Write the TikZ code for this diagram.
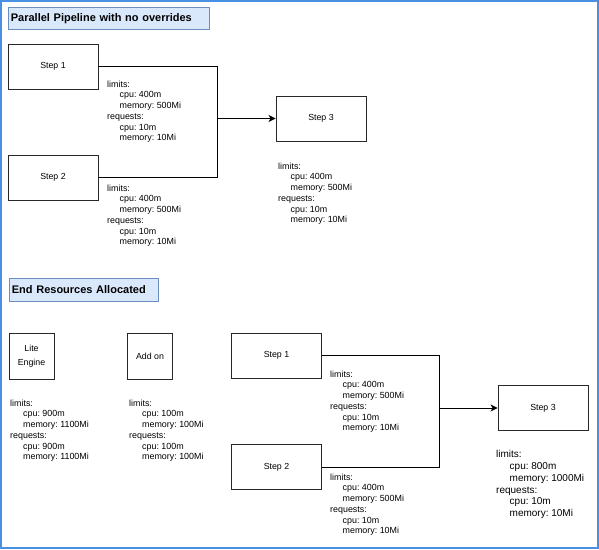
\documentclass[tikz,border=0pt]{standalone}
\usepackage{fontspec}
\setmainfont{Liberation Sans}
\usetikzlibrary{arrows.meta}
\definecolor{framecol}{RGB}{74,144,226}
\definecolor{titlefill}{RGB}{218,232,252}
\definecolor{titledraw}{RGB}{108,142,191}
\definecolor{boxdraw}{RGB}{40,40,40}
\newcommand\rind{\hspace*{12.5pt}}
\frenchspacing
\begin{document}
\begin{tikzpicture}[x=1pt,y=-1pt,
  frame/.style={draw=framecol,line width=1.5pt},
  titlebox/.style={draw=titledraw,fill=titlefill,line width=0.8pt,anchor=north west,
    font=\fontsize{11}{13}\selectfont\bfseries,align=left,inner xsep=2.5pt,inner ysep=0pt},
  stepbox/.style={draw=boxdraw,line width=0.9pt,minimum width=90pt,minimum height=45pt,
    inner sep=0pt,font=\fontsize{8.8}{10.5}\selectfont},
  smallbox/.style={draw=boxdraw,line width=0.9pt,minimum width=45pt,minimum height=46pt,
    inner sep=0pt,align=center,font=\fontsize{8.8}{14}\selectfont},
  reslab/.style={anchor=north west,inner sep=0pt,align=left,
    font=\fontsize{8.9}{10.75}\selectfont},
  reslabbig/.style={anchor=north west,inner sep=0pt,align=left,
    font=\fontsize{10}{11.8}\selectfont},
  conn/.style={draw=black,line width=0.9pt},
  arr/.style={conn,-{Stealth[length=7pt,width=7pt,inset=2pt]}}
]
\useasboundingbox (0,0) rectangle (599,549);
\draw[frame] (0.75,0.75) rectangle (598,548);

% ---------- top section ----------
\node[titlebox,text width=196pt,minimum height=22pt] (t1) at (8,7) {Parallel Pipeline with no overrides};

\node[stepbox] (a1) at (53,66.5) {Step 1};
\node[stepbox] (a2) at (53,177.5) {Step 2};
\node[stepbox] (a3) at (321,118.5) {Step 3};
\coordinate (ja) at (217,118.5);
\draw[conn] (a1.east) -| (ja);
\draw[conn] (a2.east) -| (ja);
\draw[arr] (ja) -- (a3.west);

\node[reslab] (la1) at (107,80.5) {limits:\\\rind cpu: 400m\\\rind memory: 500Mi\\requests:\\\rind cpu: 10m\\\rind memory: 10Mi};
\node[reslab] (la2) at (107,184.5) {limits:\\\rind cpu: 400m\\\rind memory: 500Mi\\requests:\\\rind cpu: 10m\\\rind memory: 10Mi};
\node[reslab] (la3) at (278,162.5) {limits:\\\rind cpu: 400m\\\rind memory: 500Mi\\requests:\\\rind cpu: 10m\\\rind memory: 10Mi};

% ---------- bottom section ----------
\node[titlebox,text width=144pt,minimum height=23pt] (t2) at (9,278) {End Resources Allocated};

\node[smallbox] (le) at (31.5,356) {Lite\\Engine};
\node[smallbox] (ao) at (150,356) {Add on};

\node[reslab] (lle) at (10,399.5) {limits:\\\hspace*{13pt}cpu: 900m\\\hspace*{13pt}memory: 1100Mi\\requests:\\\hspace*{13pt}cpu: 900m\\\hspace*{13pt}memory: 1100Mi};
\node[reslab] (lao) at (129,399.5) {limits:\\\hspace*{13pt}cpu: 100m\\\hspace*{13pt}memory: 100Mi\\requests:\\\hspace*{13pt}cpu: 100m\\\hspace*{13pt}memory: 100Mi};

\node[stepbox] (b1) at (276.5,355.5) {Step 1};
\node[stepbox] (b2) at (276.5,467) {Step 2};
\node[stepbox] (b3) at (543,408) {Step 3};
\coordinate (jb) at (439,408);
\draw[conn] (b1.east) -| (jb);
\draw[conn] (b2.east) -| (jb);
\draw[arr] (jb) -- (b3.west);

\node[reslab] (lb1) at (330,370.5) {limits:\\\rind cpu: 400m\\\rind memory: 500Mi\\requests:\\\rind cpu: 10m\\\rind memory: 10Mi};
\node[reslab] (lb2) at (330,473.5) {limits:\\\rind cpu: 400m\\\rind memory: 500Mi\\requests:\\\rind cpu: 10m\\\rind memory: 10Mi};
\node[reslabbig] (lb3) at (496,450.3) {limits:\\\hspace*{13.5pt}cpu: 800m\\\hspace*{13.5pt}memory: 1000Mi\\requests:\\\hspace*{13.5pt}cpu: 10m\\\hspace*{13.5pt}memory: 10Mi};
\end{tikzpicture}
\end{document}
